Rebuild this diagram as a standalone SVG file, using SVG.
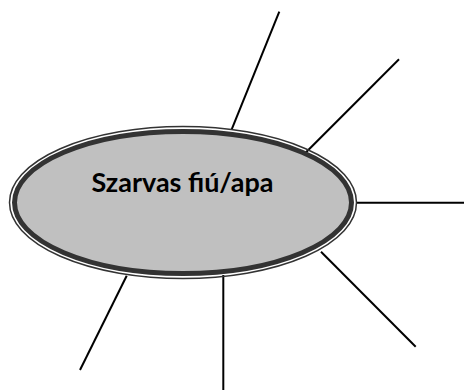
<svg xmlns="http://www.w3.org/2000/svg" width="464" height="390" viewBox="0 0 464 390">
<style>
.conn line{stroke:#000;stroke-width:2;stroke-linecap:butt}
.outer{fill:none;stroke:#333;stroke-width:1.5}
.band{fill:#c0c0c0;stroke:#333;stroke-width:5}
.label{font-family:Lato,"Open Sans","Liberation Sans",sans-serif;font-weight:bold;font-size:26px;fill:#000}
</style>
<rect width="464" height="390" fill="#fff"/>
<g id="connectors" class="conn">
<line x1="279.3" y1="11.7" x2="231.7" y2="129.3"/>
<line x1="399" y1="59.3" x2="304.3" y2="154"/>
<line x1="357" y1="202.7" x2="464" y2="202.7"/>
<line x1="321" y1="251.7" x2="415.7" y2="346.7"/>
<line x1="223.3" y1="275" x2="223.3" y2="390"/>
<line x1="126.7" y1="275.7" x2="80" y2="370"/>
</g>
<g id="node-main">
<ellipse class="outer" cx="183" cy="202.5" rx="173.5" ry="76"/>
<ellipse class="band" cx="183" cy="202.5" rx="168.5" ry="71"/>
<text class="label" x="182.5" y="191.7" text-anchor="middle" textLength="182" lengthAdjust="spacingAndGlyphs">Szarvas fiú/apa</text>
</g>
</svg>
